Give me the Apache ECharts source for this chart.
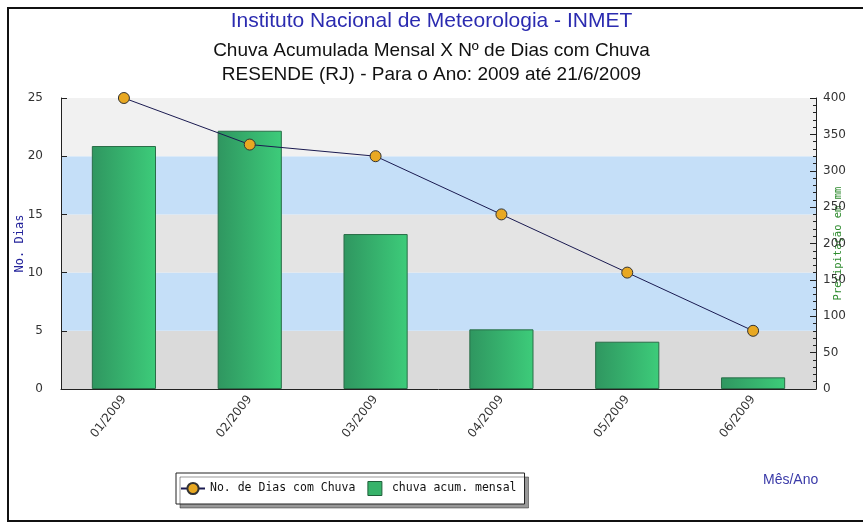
<!DOCTYPE html>
<html><head><meta charset="utf-8">
<script src="https://cdn.jsdelivr.net/npm/echarts@6/dist/echarts.min.js"></script>
<style>html,body{margin:0;padding:0;background:#fff}#c{width:863px;height:524px}</style>
</head><body><div id="c"></div>
<script>
const categories = ['01/2009','02/2009','03/2009','04/2009','05/2009','06/2009'];
const diasChuva = [25, 21, 20, 15, 10, 5];
const chuvaMensal = [334, 355, 213, 82, 65, 16];
const leftTicks = [0, 25, 5];
const rightTicks = [0, 400, 50];

const chart = echarts.init(document.getElementById('c'));
chart.setOption({
  animation: false,
  backgroundColor: '#fff',
  graphic: [
    {type:'rect', shape:{x:8, y:8, width:870, height:513}, style:{fill:'none', stroke:'#111', lineWidth:2}, z:-1},
    {type:'text', left:763, top:473, style:{text:'Mês/Ano', fill:'#3a3aa8', font:'14px "Liberation Sans", Arial, sans-serif'}}
  ],
  title: [
    {text:'Instituto Nacional de Meteorologia - INMET', left:'center', top:6,
     textStyle:{color:'#2b2bb0', fontSize:21, fontWeight:'normal', fontFamily:'"Liberation Sans", Arial, sans-serif'}},
    {text:'Chuva Acumulada Mensal X Nº de Dias com Chuva\nRESENDE (RJ) - Para o Ano: 2009 até 21/6/2009', left:'center', top:34,
     textStyle:{color:'#111', fontSize:19, fontWeight:'normal', lineHeight:24, fontFamily:'"Liberation Sans", Arial, sans-serif'}}
  ],
  legend: {
    orient:'horizontal', left:176, top:473,
    padding:[8,8,8,4], itemGap:12,
    backgroundColor:'#fff', borderColor:'#222', borderWidth:1,
    shadowColor:'rgba(0,0,0,0.4)', shadowBlur:0, shadowOffsetX:4, shadowOffsetY:4,
    itemWidth:24, itemHeight:14,
    textStyle:{fontFamily:'"DejaVu Sans Mono", monospace', fontSize:11.5, color:'#111'},
    data:[
      {name:'No. de Dias com Chuva'},
      {name:'chuva acum. mensal', icon:'path://M0,0L10,0L10,10L0,10Z', itemStyle:{color:'#37b36a', borderColor:'#1f5f3a', borderWidth:1}}
    ]
  },
  grid: {left:61, right:47, top:98, bottom:135, outerBoundsMode:'none', containLabel:false},
  xAxis: {
    type:'category', data:categories, boundaryGap:true,
    axisLine:{lineStyle:{color:'#222', width:1}},
    axisTick:{inside:true, length:5, alignWithLabel:false, lineStyle:{color:'#222'}},
    axisLabel:{rotate:52, color:'#333', fontSize:12, margin:8, fontFamily:'"DejaVu Sans", Verdana, sans-serif'}
  },
  yAxis: [
    {type:'value', min:leftTicks[0], max:leftTicks[1], interval:leftTicks[2], position:'left',
     name:'No. Dias', nameLocation:'middle', nameGap:35, nameRotate:90, nameMoveOverlap:false,
     nameTextStyle:{color:'#22229a', fontSize:12, fontFamily:'"DejaVu Sans Mono", monospace'},
     axisLine:{show:true, lineStyle:{color:'#222'}},
     axisTick:{show:true, inside:true, length:6, lineStyle:{color:'#222'}},
     axisLabel:{color:'#333', fontSize:12, margin:18, fontFamily:'"DejaVu Sans", Verdana, sans-serif'},
     splitLine:{show:false},
     splitArea:{show:true, areaStyle:{color:['#dadada','#c5dff8','#e4e4e4','#c5dff8','#f1f1f1']}}
    },
    {type:'value', min:rightTicks[0], max:rightTicks[1], interval:rightTicks[2], position:'right',
     name:'Precipitação em mm', nameLocation:'middle', nameGap:17, nameRotate:90, nameMoveOverlap:false,
     nameTextStyle:{color:'#2e8b2e', fontSize:10.5, fontFamily:'"DejaVu Sans Mono", monospace'},
     axisLine:{show:true, lineStyle:{color:'#222'}},
     axisTick:{show:true, inside:true, length:6, lineStyle:{color:'#222'}},
     minorTick:{show:true, splitNumber:5, length:3, lineStyle:{color:'#222'}},
     axisLabel:{color:'#333', fontSize:12, margin:7, fontFamily:'"DejaVu Sans", Verdana, sans-serif'},
     splitLine:{show:false}, splitArea:{show:false}
    }
  ],
  series: [
    {name:'chuva acum. mensal', type:'bar', yAxisIndex:1, data:chuvaMensal, barWidth:'51%', z:2,
     itemStyle:{borderColor:'#2a6e48', borderWidth:1,
       color:new echarts.graphic.LinearGradient(0,0,1,0,[{offset:0,color:'#2f9660'},{offset:1,color:'#3dcc7a'}])}},
    {name:'No. de Dias com Chuva', type:'line', yAxisIndex:0, data:diasChuva, z:3,
     symbol:'circle', symbolSize:11,
     lineStyle:{color:'#1a1a50', width:1},
     itemStyle:{color:'#e8a822', borderColor:'#333', borderWidth:1}}
  ]
});
</script></body></html>
